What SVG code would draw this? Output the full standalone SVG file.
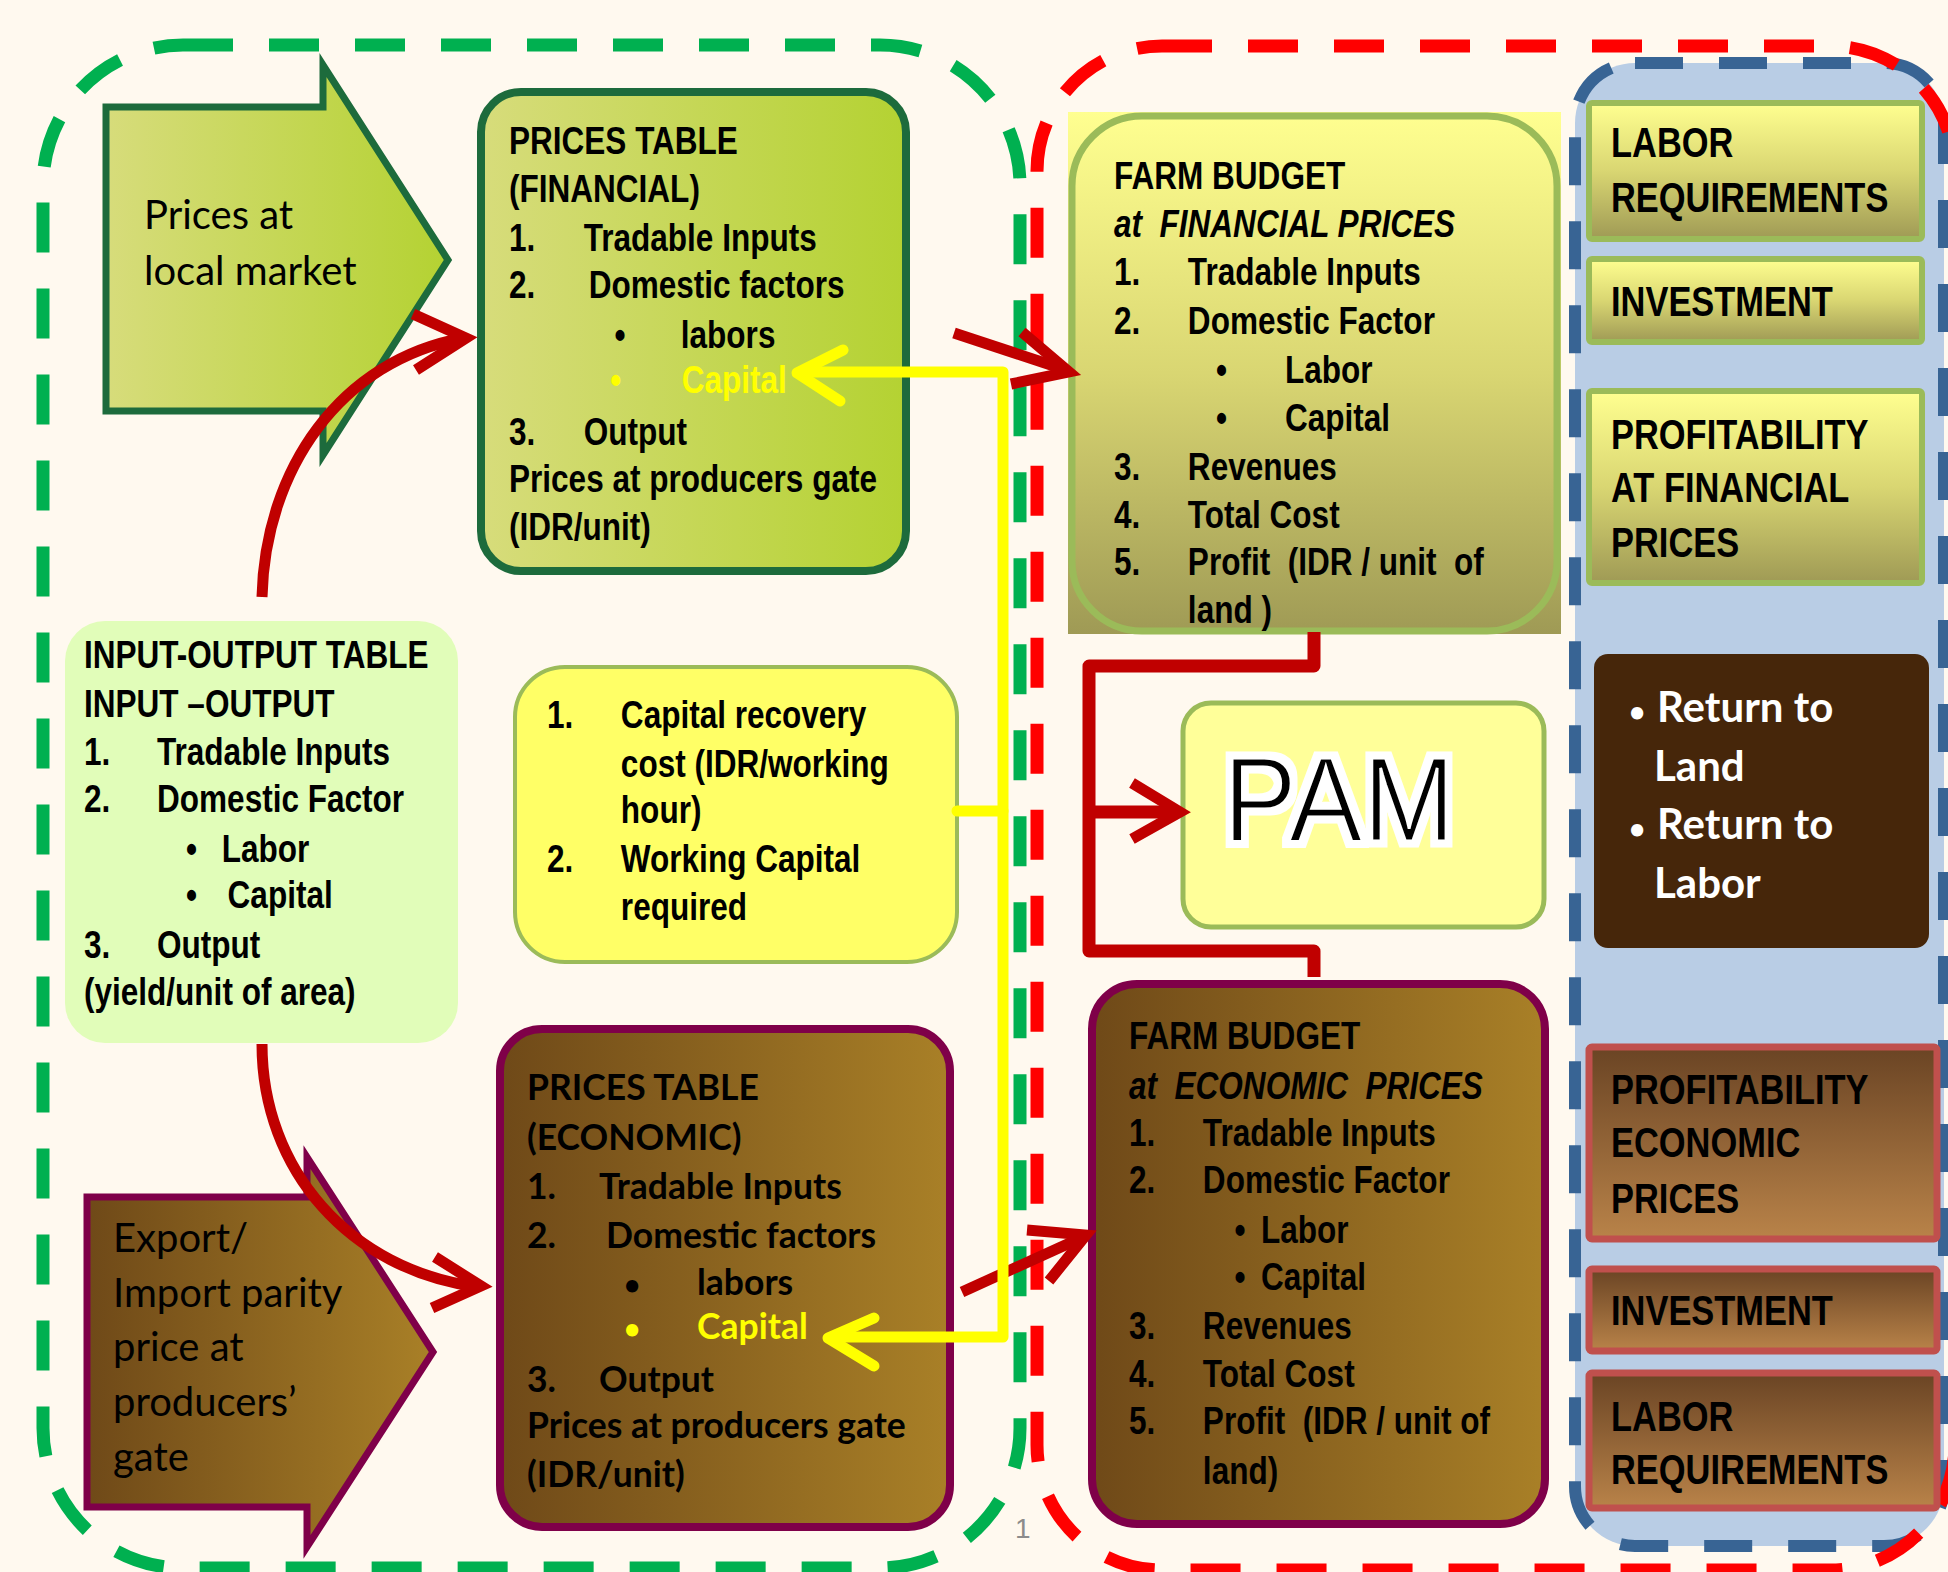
<svg xmlns="http://www.w3.org/2000/svg" width="1948" height="1572" viewBox="0 0 1948 1572">
<defs>
<linearGradient id="gGreen" x1="0" y1="0" x2="1" y2="0"><stop offset="0" stop-color="#D7DC7B"/><stop offset="1" stop-color="#B4D232"/></linearGradient>
<linearGradient id="gBrownH" x1="0" y1="0" x2="1" y2="0"><stop offset="0" stop-color="#6F4918"/><stop offset="1" stop-color="#A98027"/></linearGradient>
<linearGradient id="gOlive" x1="0" y1="0" x2="0" y2="1"><stop offset="0" stop-color="#FFFF90"/><stop offset="0.5" stop-color="#D9D672"/><stop offset="1" stop-color="#9F9A55"/></linearGradient>
<linearGradient id="gBrownV" x1="0" y1="0" x2="0" y2="1"><stop offset="0" stop-color="#6A4424"/><stop offset="1" stop-color="#B98349"/></linearGradient>
<filter id="glow" x="-10%" y="-20%" width="120%" height="140%">
<feMorphology in="SourceAlpha" operator="dilate" radius="5" result="d"/>
<feFlood flood-color="#FFFFFF"/>
<feComposite in2="d" operator="in" result="w"/>
<feMerge><feMergeNode in="w"/><feMergeNode in="SourceGraphic"/></feMerge>
</filter>
<style>
.nb{font-family:"Liberation Sans",Arial,sans-serif;font-weight:bold;font-size:38px;fill:#000}
.rb{font-family:"Liberation Sans",Arial,sans-serif;font-weight:bold;font-size:42px;fill:#000}
.it{font-style:italic}
.cal{font-family:Lato,"Liberation Sans",sans-serif;font-size:40px;fill:#000}
.calb{font-family:Lato,"Liberation Sans",sans-serif;font-weight:bold;font-size:35.5px;fill:#000}
.ret{font-family:Lato,"Liberation Sans",sans-serif;font-weight:bold;font-size:42px;fill:#FFF}
.bul{font-size:28px}
.yel{fill:#FFFF00}
.olivebox{fill:url(#gOlive);stroke:#9BBB59;stroke-width:6}
.brownbox{fill:url(#gBrownV);stroke:#C0504D;stroke-width:7}
.red{fill:none;stroke:#C00000;stroke-width:11;stroke-linejoin:miter}
.yl{fill:none;stroke:#FFFF00;stroke-width:11;stroke-linecap:round;stroke-linejoin:round}
</style>
</defs>
<rect x="0" y="0" width="1948" height="1572" fill="#FFF9EF"/>

<g id="green-zone"><rect x="43" y="45" width="977" height="1523" rx="140" fill="none" stroke="#00B050" stroke-width="13" stroke-dasharray="50 36"/></g>
<g id="blue-panel"><rect x="1575" y="63" width="369" height="1483" rx="60" fill="#B9CDE5" stroke="#386494" stroke-width="12" stroke-dasharray="48 36"/></g>
<g id="red-zone"><rect x="1037" y="46" width="918" height="1524" rx="125" fill="none" stroke="#FF0000" stroke-width="13" stroke-dasharray="50 36"/></g>

<g id="prices-local">
<polygon points="106,107 323,107 323,65 448,260 323,455 323,411 106,411" fill="url(#gGreen)" stroke="#1D6B3C" stroke-width="7"/>
<text class="cal" x="144" y="229">Prices at</text>
<text class="cal" x="144" y="285">local market</text>
</g>

<g id="prices-fin">
<rect x="481" y="92" width="425" height="479" rx="40" fill="url(#gGreen)" stroke="#1D6B3C" stroke-width="8"/>
<g class="nb" transform="translate(509 0) scale(0.83 1)">
<text x="0" y="154">PRICES TABLE</text>
<text x="0" y="202">(FINANCIAL)</text>
<text y="251"><tspan x="0">1.</tspan><tspan x="90">Tradable Inputs</tspan></text>
<text y="298"><tspan x="0">2.</tspan><tspan x="96">Domestic factors</tspan></text>
<text y="348"><tspan x="127">•</tspan><tspan x="207">labors</tspan></text>
<text y="393" class="yel"><tspan x="122">•</tspan><tspan x="208">Capital</tspan></text>
<text y="445"><tspan x="0">3.</tspan><tspan x="90">Output</tspan></text>
<text x="0" y="492">Prices at producers gate</text>
<text x="0" y="540">(IDR/unit)</text>
</g>
</g>

<g id="io-table">
<rect x="65" y="621" width="393" height="422" rx="40" fill="#E1FDB9"/>
<g class="nb" transform="translate(84 0) scale(0.83 1)">
<text x="0" y="668">INPUT-OUTPUT TABLE</text>
<text x="0" y="717">INPUT –OUTPUT</text>
<text y="765"><tspan x="0">1.</tspan><tspan x="88">Tradable Inputs</tspan></text>
<text y="812"><tspan x="0">2.</tspan><tspan x="88">Domestic Factor</tspan></text>
<text y="862"><tspan x="123">•</tspan><tspan x="166">Labor</tspan></text>
<text y="908"><tspan x="123">•</tspan><tspan x="173">Capital</tspan></text>
<text y="958"><tspan x="0">3.</tspan><tspan x="88">Output</tspan></text>
<text x="0" y="1005">(yield/unit of area)</text>
</g>
</g>

<g id="capital-recovery">
<rect x="515" y="667" width="442" height="295" rx="50" fill="#FFFF66" stroke="#9BBB59" stroke-width="4"/>
<g class="nb" transform="translate(547 0) scale(0.83 1)">
<text y="728"><tspan x="0">1.</tspan><tspan x="89">Capital recovery</tspan></text>
<text x="89" y="777">cost (IDR/working</text>
<text x="89" y="823">hour)</text>
<text y="872"><tspan x="0">2.</tspan><tspan x="89">Working Capital</tspan></text>
<text x="89" y="920">required</text>
</g>
</g>

<g id="export-import">
<polygon points="87,1197 307,1197 307,1157 433,1352 307,1547 307,1507 87,1507" fill="url(#gBrownH)" stroke="#7F0049" stroke-width="7"/>
<text class="cal" x="113" y="1252">Export/</text>
<text class="cal" x="113" y="1307">Import parity</text>
<text class="cal" x="113" y="1361">price at</text>
<text class="cal" x="113" y="1416">producers’</text>
<text class="cal" x="113" y="1471">gate</text>
</g>

<g id="prices-econ">
<rect x="500" y="1029" width="450" height="498" rx="42" fill="url(#gBrownH)" stroke="#7F0049" stroke-width="8"/>
<g class="calb">
<text x="527" y="1100">PRICES TABLE</text>
<text x="527" y="1150">(ECONOMIC)</text>
<text y="1199"><tspan x="527">1.</tspan><tspan x="599">Tradable Inputs</tspan></text>
<text y="1248"><tspan x="527">2.</tspan><tspan x="606">Domestic factors</tspan></text>
<text y="1295"><tspan x="624" class="bul">•</tspan><tspan x="697">labors</tspan></text>
<text y="1339" class="yel"><tspan x="624" class="bul">•</tspan><tspan x="697">Capital</tspan></text>
<text y="1392"><tspan x="527">3.</tspan><tspan x="599">Output</tspan></text>
<text x="527" y="1438">Prices at producers gate</text>
<text x="527" y="1487">(IDR/unit)</text>
</g>
</g>

<g id="farm-fin">
<rect x="1068" y="112" width="493" height="522" fill="url(#gOlive)"/>
<rect x="1072" y="116" width="485" height="515" rx="70" fill="none" stroke="#9BBB59" stroke-width="7"/>
<g class="nb" transform="translate(1114 0) scale(0.83 1)">
<text x="0" y="189">FARM BUDGET</text>
<text x="0" y="237" class="it" xml:space="preserve">at  FINANCIAL PRICES</text>
<text y="285"><tspan x="0">1.</tspan><tspan x="89">Tradable Inputs</tspan></text>
<text y="334"><tspan x="0">2.</tspan><tspan x="89">Domestic Factor</tspan></text>
<text y="383"><tspan x="123">•</tspan><tspan x="206">Labor</tspan></text>
<text y="431"><tspan x="123">•</tspan><tspan x="206">Capital</tspan></text>
<text y="480"><tspan x="0">3.</tspan><tspan x="89">Revenues</tspan></text>
<text y="528"><tspan x="0">4.</tspan><tspan x="89">Total Cost</tspan></text>
<text y="575" xml:space="preserve"><tspan x="0">5.</tspan><tspan x="89">Profit  (IDR / unit  of</tspan></text>
<text x="89" y="623">land )</text>
</g>
</g>

<g id="pam">
<rect x="1183" y="703" width="361" height="224" rx="28" fill="#FFFF99" stroke="#9BBB59" stroke-width="5"/>
<text x="1223" y="841" textLength="232" lengthAdjust="spacingAndGlyphs" font-family="Liberation Sans, Arial, sans-serif" font-size="120" fill="#000" stroke="#FFF" stroke-width="3" filter="url(#glow)">PAM</text>
</g>

<g id="farm-econ">
<rect x="1092" y="984" width="453" height="540" rx="45" fill="url(#gBrownH)" stroke="#7F0049" stroke-width="8"/>
<g class="nb" transform="translate(1129 0) scale(0.83 1)">
<text x="0" y="1049">FARM BUDGET</text>
<text x="0" y="1099" class="it" xml:space="preserve">at  ECONOMIC  PRICES</text>
<text y="1146"><tspan x="0">1.</tspan><tspan x="89">Tradable Inputs</tspan></text>
<text y="1193"><tspan x="0">2.</tspan><tspan x="89">Domestic Factor</tspan></text>
<text y="1243"><tspan x="127">•</tspan><tspan x="159">Labor</tspan></text>
<text y="1290"><tspan x="127">•</tspan><tspan x="159">Capital</tspan></text>
<text y="1339"><tspan x="0">3.</tspan><tspan x="89">Revenues</tspan></text>
<text y="1387"><tspan x="0">4.</tspan><tspan x="89">Total Cost</tspan></text>
<text y="1434" xml:space="preserve"><tspan x="0">5.</tspan><tspan x="89">Profit  (IDR / unit of</tspan></text>
<text x="89" y="1484">land)</text>
</g>
</g>

<g id="returns">
<rect x="1594" y="654" width="335" height="294" rx="14" fill="#46260A"/>
<text class="ret" y="722"><tspan x="1629" class="bul">•</tspan><tspan x="1657">Return to</tspan></text>
<text class="ret" x="1654" y="781">Land</text>
<text class="ret" y="839"><tspan x="1629" class="bul">•</tspan><tspan x="1657">Return to</tspan></text>
<text class="ret" x="1654" y="898">Labor</text>
</g>

<g id="labor-fin">
<rect class="olivebox" x="1589" y="103" width="333" height="136" rx="3"/>
<g class="rb" transform="translate(1611 0) scale(0.82 1)"><text x="0" y="157">LABOR</text><text x="0" y="212">REQUIREMENTS</text></g>
</g>
<g id="invest-fin">
<rect class="olivebox" x="1589" y="259" width="333" height="83" rx="3"/>
<g class="rb" transform="translate(1611 0) scale(0.82 1)"><text x="0" y="316">INVESTMENT</text></g>
</g>
<g id="profit-fin">
<rect class="olivebox" x="1589" y="391" width="333" height="192" rx="3"/>
<g class="rb" transform="translate(1611 0) scale(0.82 1)"><text x="0" y="449">PROFITABILITY</text><text x="0" y="502">AT FINANCIAL</text><text x="0" y="557">PRICES</text></g>
</g>
<g id="profit-econ">
<rect class="brownbox" x="1589" y="1047" width="348" height="192" rx="3"/>
<g class="rb" transform="translate(1611 0) scale(0.82 1)"><text x="0" y="1104">PROFITABILITY</text><text x="0" y="1157">ECONOMIC</text><text x="0" y="1213">PRICES</text></g>
</g>
<g id="invest-econ">
<rect class="brownbox" x="1589" y="1269" width="348" height="82" rx="3"/>
<g class="rb" transform="translate(1611 0) scale(0.82 1)"><text x="0" y="1325">INVESTMENT</text></g>
</g>
<g id="labor-econ">
<rect class="brownbox" x="1589" y="1373" width="348" height="135" rx="3"/>
<g class="rb" transform="translate(1611 0) scale(0.82 1)"><text x="0" y="1431">LABOR</text><text x="0" y="1484">REQUIREMENTS</text></g>
</g>

<text x="1015" y="1538" font-family="Liberation Sans, Arial, sans-serif" font-size="28" fill="#8C8C8C">1</text>

<g id="connectors">
<path class="red" d="M262,597 C265,470 340,360 464,338"/>
<polyline class="red" points="413,314 466,338 416,370"/>
<path class="red" d="M262,1044 C262,1170 350,1270 478,1287"/>
<polyline class="red" points="435,1257 481,1286 432,1308"/>
<line class="red" x1="954" y1="333" x2="1066" y2="370"/>
<polyline class="red" points="1022,332 1069,372 1011,384"/>
<line class="red" x1="962" y1="1292" x2="1083" y2="1237"/>
<polyline class="red" points="1027,1230 1086,1235 1049,1281"/>
<path fill="none" stroke="#C00000" stroke-width="13" stroke-linejoin="round" d="M1314,632 V666 H1089 V951 H1314 V977"/>
<line x1="1089" y1="812" x2="1176" y2="812" stroke="#C00000" stroke-width="13"/>
<polyline class="red" stroke-width="13" points="1132,783 1180,812 1132,839"/>
<polyline class="yl" points="800,372 1003,372 1003,1337 832,1337"/>
<line class="yl" x1="957" y1="811" x2="1003" y2="811"/>
<polyline class="yl" points="843,350 797,373 840,401"/>
<polyline class="yl" points="874,1318 828,1338 874,1366"/>
</g>
</svg>
